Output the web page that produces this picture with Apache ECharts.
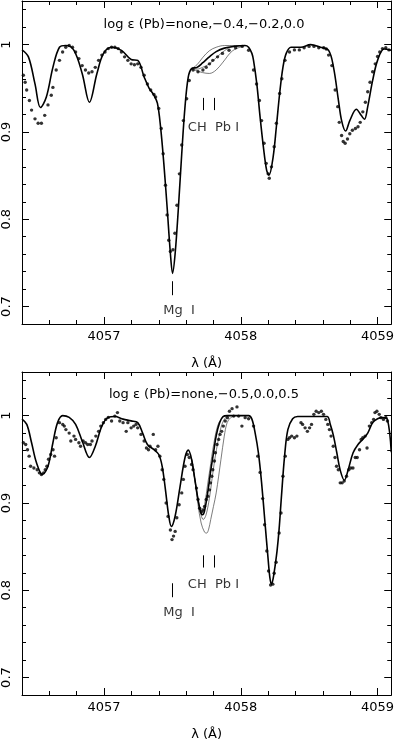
<!DOCTYPE html>
<html>
<head>
<meta charset="utf-8">
<title>Pb I 4057 spectrum fit</title>
<script src="https://cdn.jsdelivr.net/npm/echarts@6/dist/echarts.min.js"></script>
<style>
  html, body { margin: 0; padding: 0; background: #fff; }
  #main { width: 397px; height: 742px; }
</style>
</head>
<body>
<div id="main"></div>
<script>
// axis ranges and tick values
const X_MIN = 4056.4, X_MAX = 4059.1;
const Y_MIN = 0.68, Y_MAX = 1.05;
const xMajor = [4057, 4058, 4059];
const xMinor = [4056.4, 4056.6, 4056.8, 4057.2, 4057.4, 4057.6, 4057.8, 4058.2, 4058.4, 4058.6, 4058.8, 4059.0];
const yMajor = [0.7, 0.8, 0.9, 1.0];
const yMinor = [0.68, 0.72, 0.74, 0.76, 0.78, 0.82, 0.84, 0.86, 0.88, 0.92, 0.94, 0.96, 0.98, 1.02, 1.04];

const topTitle = "log \u03b5 (Pb)=none,\u22120.4,\u22120.2,0.0";
const bottomTitle = "log \u03b5 (Pb)=none,\u22120.5,0.0,0.5";

// ---- upper panel ----
const topObserved = [
    [4056.41,0.965],[4056.423,0.957],[4056.434,0.948],[4056.454,0.936],[4056.47,0.925],[4056.495,0.915],
    [4056.518,0.910],[4056.542,0.910],[4056.566,0.919],[4056.59,0.931],[4056.614,0.942],[4056.626,0.951],
    [4056.65,0.971],[4056.674,0.982],[4056.697,0.9915],[4056.72,0.997],[4056.745,0.999],[4056.769,0.997],
    [4056.792,0.9915],[4056.816,0.984],[4056.84,0.976],[4056.864,0.971],[4056.888,0.9675],[4056.912,0.969],
    [4056.936,0.974],[4056.96,0.982],[4056.984,0.988],[4057.007,0.9915],[4057.031,0.9955],[4057.055,0.997],
    [4057.079,0.997],[4057.103,0.9955],[4057.127,0.9915],[4057.15,0.986],[4057.174,0.982],[4057.198,0.978],
    [4057.222,0.977],[4057.246,0.978],[4057.27,0.974],[4057.293,0.965],[4057.317,0.955],[4057.341,0.948],
    [4057.365,0.943],[4057.377,0.940],[4057.40,0.927],[4057.418,0.904],[4057.432,0.875],[4057.449,0.839],
    [4057.461,0.805],[4057.473,0.776],[4057.485,0.763],[4057.504,0.765],[4057.518,0.784],[4057.533,0.816],
    [4057.551,0.852],[4057.568,0.885],[4057.58,0.913],[4057.604,0.938],[4057.623,0.959],[4057.651,0.971],
    [4057.687,0.969],[4057.723,0.971],[4057.747,0.974],[4057.771,0.978],[4057.795,0.982],[4057.83,0.986],
    [4057.866,0.990],[4057.914,0.9935],[4057.962,0.9965],[4058.01,0.998],[4058.057,0.9935],[4058.093,0.971],
    [4058.115,0.955],[4058.136,0.936],[4058.152,0.913],[4058.17,0.887],[4058.186,0.864],[4058.2,0.852],
    [4058.208,0.847],[4058.224,0.86],[4058.244,0.883],[4058.26,0.91],[4058.284,0.944],[4058.3,0.961],
    [4058.323,0.982],[4058.356,0.9915],[4058.392,0.994],[4058.428,0.994],[4058.463,0.9965],[4058.499,0.998],
    [4058.535,0.998],[4058.57,0.9965],[4058.606,0.9965],[4058.625,0.995],[4058.642,0.988],[4058.666,0.976],
    [4058.69,0.948],[4058.709,0.929],[4058.72,0.911],[4058.737,0.896],[4058.749,0.889],[4058.763,0.887],
    [4058.78,0.892],[4058.797,0.898],[4058.816,0.902],[4058.838,0.904],[4058.857,0.906],[4058.873,0.911],
    [4058.892,0.923],[4058.911,0.934],[4058.928,0.946],[4058.945,0.957],[4058.964,0.969],[4058.983,0.978],
    [4059.0,0.9865],[4059.016,0.9915],[4059.036,0.9955],[4059.06,0.9965],[4059.083,0.994]
];
// synthetic spectrum, log eps(Pb) = -0.4 (drawn bold)
const topModel = [
    [4056.40,0.994],[4056.447,0.986],[4056.495,0.955],[4056.535,0.928],[4056.578,0.940],[4056.626,0.974],
    [4056.674,0.997],[4056.72,0.999],[4056.78,0.9935],[4056.84,0.967],[4056.893,0.934],[4056.948,0.967],
    [4056.996,0.990],[4057.055,0.997],[4057.127,0.9935],[4057.198,0.983],[4057.246,0.982],[4057.293,0.963],
    [4057.33,0.950],[4057.365,0.942],[4057.39,0.933],[4057.413,0.906],[4057.437,0.864],[4057.461,0.814],
    [4057.485,0.761],[4057.501,0.738],[4057.52,0.761],[4057.544,0.814],[4057.568,0.875],[4057.592,0.929],
    [4057.616,0.963],[4057.64,0.9725],[4057.68,0.974],[4057.72,0.979],[4057.77,0.986],[4057.82,0.992],
    [4057.88,0.996],[4057.95,0.998],[4058.03,0.999],[4058.057,0.997],[4058.081,0.990],[4058.093,0.982],
    [4058.117,0.955],[4058.141,0.917],[4058.165,0.883],[4058.189,0.856],[4058.206,0.8505],[4058.236,0.871],
    [4058.26,0.906],[4058.284,0.944],[4058.308,0.974],[4058.332,0.990],[4058.367,0.997],[4058.439,0.997],
    [4058.51,1.0],[4058.582,0.997],[4058.642,0.9935],[4058.678,0.974],[4058.714,0.936],[4058.737,0.913],
    [4058.766,0.901],[4058.797,0.913],[4058.845,0.926],[4058.88,0.919],[4058.904,0.9145],[4058.928,0.929],
    [4058.964,0.959],[4059.0,0.982],[4059.048,0.995],[4059.1,0.9935]
];
// the other abundances only differ around the Pb I line
const topPbNone = [[4057.64,0.9725],[4057.68,0.977],[4057.72,0.985],[4057.77,0.993],[4057.82,0.997],[4057.88,0.999],[4057.95,0.999],[4058.03,0.999]];
const topPbM02 = [[4057.64,0.9725],[4057.68,0.972],[4057.72,0.974],[4057.77,0.978],[4057.82,0.985],[4057.88,0.993],[4057.94,0.998],[4058.03,0.999]];
const topPb00 = [[4057.64,0.972],[4057.68,0.970],[4057.72,0.968],[4057.77,0.967],[4057.82,0.971],[4057.87,0.980],[4057.94,0.993],[4058.03,0.999]];

// ---- lower panel ----
const bottomObserved = [
    [4056.41,0.969],[4056.427,0.967],[4056.44,0.961],[4056.452,0.9536],[4056.463,0.942],[4056.487,0.940],
    [4056.511,0.938],[4056.527,0.9345],[4056.542,0.9325],[4056.558,0.9345],[4056.57,0.938],[4056.582,0.942],
    [4056.594,0.95],[4056.61,0.9555],[4056.627,0.961],[4056.638,0.9536],[4056.65,0.9747],[4056.674,0.992],
    [4056.698,0.990],[4056.709,0.988],[4056.721,0.984],[4056.745,0.980],[4056.757,0.971],[4056.78,0.9766],
    [4056.792,0.9728],[4056.816,0.969],[4056.828,0.965],[4056.847,0.971],[4056.864,0.969],[4056.88,0.967],
    [4056.9,0.967],[4056.912,0.971],[4056.94,0.9766],[4056.96,0.982],[4056.976,0.988],[4056.995,0.992],
    [4057.012,0.9957],[4057.031,0.998],[4057.055,0.9938],[4057.079,0.9995],[4057.098,1.0035],[4057.115,0.9938],
    [4057.139,0.992],[4057.162,0.982],[4057.174,0.992],[4057.198,0.986],[4057.217,0.988],[4057.234,0.990],
    [4057.246,0.986],[4057.27,0.9785],[4057.293,0.971],[4057.31,0.963],[4057.325,0.961],[4057.336,0.965],
    [4057.36,0.9785],[4057.377,0.961],[4057.394,0.965],[4057.408,0.9536],[4057.425,0.938],[4057.437,0.927],
    [4057.454,0.900],[4057.468,0.8846],[4057.485,0.869],[4057.497,0.858],[4057.508,0.862],[4057.52,0.8674],
    [4057.532,0.883],[4057.549,0.898],[4057.568,0.9115],[4057.58,0.927],[4057.592,0.942],[4057.609,0.9555],
    [4057.623,0.952],[4057.64,0.944],[4057.651,0.938],[4057.676,0.917],[4057.687,0.904],[4057.699,0.894],
    [4057.711,0.890],[4057.723,0.892],[4057.735,0.896],[4057.747,0.904],[4057.759,0.9076],[4057.771,0.915],
    [4057.778,0.923],[4057.788,0.9306],[4057.795,0.938],[4057.807,0.948],[4057.814,0.9575],[4057.826,0.967],
    [4057.838,0.9728],[4057.848,0.9785],[4057.86,0.982],[4057.872,0.988],[4057.886,0.9938],[4057.902,0.9977],
    [4057.917,1.005],[4057.936,1.008],[4057.948,0.9995],[4057.972,1.010],[4057.984,0.9995],[4058.008,0.988],
    [4058.032,0.9977],[4058.057,0.9965],[4058.093,0.988],[4058.124,0.9536],[4058.141,0.935],[4058.16,0.905],
    [4058.174,0.875],[4058.19,0.845],[4058.203,0.822],[4058.218,0.806],[4058.234,0.807],[4058.244,0.8195],
    [4058.258,0.832],[4058.28,0.8655],[4058.294,0.8885],[4058.308,0.9306],[4058.325,0.9536],[4058.344,0.9728],
    [4058.356,0.9747],[4058.372,0.9766],[4058.392,0.9747],[4058.41,0.9766],[4058.44,0.992],[4058.452,0.990],
    [4058.47,0.986],[4058.487,0.982],[4058.503,0.986],[4058.517,0.990],[4058.534,1.0015],[4058.551,1.005],
    [4058.57,1.0035],[4058.589,1.005],[4058.605,1.0015],[4058.622,0.9957],[4058.636,0.990],[4058.648,0.984],
    [4058.66,0.9766],[4058.676,0.965],[4058.689,0.952],[4058.70,0.942],[4058.713,0.938],[4058.727,0.923],
    [4058.741,0.923],[4058.756,0.925],[4058.773,0.9306],[4058.79,0.938],[4058.804,0.940],[4058.82,0.940],
    [4058.837,0.952],[4058.851,0.952],[4058.868,0.961],[4058.88,0.9728],[4058.892,0.9747],[4058.909,0.9766],
    [4058.923,0.963],[4058.94,0.988],[4058.957,0.992],[4058.971,0.9957],[4058.981,1.0035],[4058.995,1.005],
    [4059.012,1.0015],[4059.024,0.9977],[4059.043,0.9957],[4059.06,0.998],[4059.072,0.9938]
];
// synthetic spectrum, log eps(Pb) = -0.5 (drawn bold)
const bottomModel = [
    [4056.40,0.996],[4056.435,0.990],[4056.47,0.969],[4056.506,0.946],[4056.549,0.9325],[4056.59,0.942],
    [4056.626,0.969],[4056.66,0.992],[4056.697,1.0],[4056.745,0.998],[4056.792,0.990],[4056.84,0.971],
    [4056.893,0.952],[4056.936,0.965],[4056.984,0.988],[4057.031,0.998],[4057.079,0.999],[4057.139,0.996],
    [4057.198,0.994],[4057.246,0.992],[4057.282,0.980],[4057.317,0.967],[4057.365,0.961],[4057.40,0.9555],
    [4057.425,0.942],[4057.449,0.915],[4057.473,0.885],[4057.492,0.873],[4057.52,0.885],[4057.556,0.919],
    [4057.592,0.952],[4057.616,0.9605],[4057.64,0.950],[4057.664,0.927],[4057.687,0.904],[4057.705,0.890],
    [4057.72,0.8865],[4057.735,0.891],[4057.76,0.914],[4057.78,0.937],[4057.80,0.957],[4057.82,0.977],
    [4057.845,0.992],[4057.87,0.999],[4057.9,1.0],[4058.057,1.0],[4058.081,0.996],[4058.105,0.980],
    [4058.129,0.957],[4058.152,0.923],[4058.177,0.877],[4058.2,0.835],[4058.212,0.815],[4058.224,0.807],
    [4058.236,0.813],[4058.248,0.825],[4058.265,0.845],[4058.28,0.870],[4058.296,0.905],[4058.32,0.9536],
    [4058.344,0.984],[4058.379,0.9965],[4058.415,0.999],[4058.63,0.999],[4058.654,0.990],[4058.678,0.9766],
    [4058.702,0.9575],[4058.726,0.938],[4058.757,0.926],[4058.785,0.938],[4058.821,0.9575],[4058.857,0.967],
    [4058.893,0.973],[4058.928,0.980],[4058.964,0.992],[4059.0,0.9965],[4059.036,0.9977],[4059.072,0.9957],
    [4059.1,0.958]
];
const bottomPbNone = [[4057.64,0.950],[4057.664,0.927],[4057.687,0.905],[4057.705,0.891],[4057.718,0.889],[4057.735,0.898],[4057.759,0.923],[4057.78,0.945],[4057.795,0.961],[4057.83,0.988],[4057.866,0.9975],[4057.9,1.0]];
const bottomPb00 = [[4057.64,0.950],[4057.664,0.927],[4057.687,0.903],[4057.71,0.886],[4057.725,0.881],[4057.745,0.886],[4057.77,0.905],[4057.79,0.928],[4057.81,0.95],[4057.835,0.972],[4057.86,0.989],[4057.89,0.998],[4057.92,1.0]];
const bottomPb05 = [[4057.64,0.950],[4057.664,0.926],[4057.687,0.898],[4057.71,0.877],[4057.735,0.8665],[4057.75,0.8655],[4057.765,0.870],[4057.78,0.881],[4057.80,0.896],[4057.82,0.9115],[4057.855,0.95],[4057.879,0.9765],[4057.90,0.992],[4057.926,0.9977],[4057.96,1.0]];

// line identifications: [wavelength, tick bottom, tick top]
const topLineMarks = [[4057.50, 0.713, 0.729], [4057.722, 0.925, 0.939], [4057.806, 0.925, 0.939]];
const bottomLineMarks = [[4057.50, 0.792, 0.808], [4057.722, 0.826, 0.840], [4057.806, 0.826, 0.840]];
// labels: [wavelength, flux, text]
const topLabels = [[4057.549, 0.695, "Mg  I"], [4057.80, 0.905, "CH  Pb I"]];
const bottomLabels = [[4057.549, 0.774, "Mg  I"], [4057.80, 0.806, "CH  Pb I"]];

document.addEventListener("DOMContentLoaded", function () {
    const FONT = "DejaVu Sans";
    var chart = echarts.init(document.getElementById("main"), null, { renderer: "canvas" });

    // four x axes per panel: bottom/top, major/minor ticks
    function makeXAxes(g) {
        var base = { gridIndex: g, type: "value", min: X_MIN, max: X_MAX, splitLine: { show: false } };
        return [
            Object.assign({}, base, {
                position: "bottom",
                axisLine: { lineStyle: { color: "#000", width: 1 } },
                axisTick: { inside: true, length: 7, customValues: xMajor, lineStyle: { color: "#000" } },
                axisLabel: {
                    customValues: xMajor, margin: 6, color: "#000", fontSize: 13, fontFamily: FONT,
                    formatter: function (v) { return String(Math.round(v)); }
                },
                name: "\u03bb (\u00c5)", nameLocation: "middle", nameGap: 33,
                nameTextStyle: { color: "#000", fontSize: 13, fontFamily: FONT }
            }),
            Object.assign({}, base, {
                position: "bottom", axisLine: { show: false },
                axisTick: { inside: true, length: 4, customValues: xMinor, lineStyle: { color: "#000" } },
                axisLabel: { show: false }
            }),
            Object.assign({}, base, {
                position: "top",
                axisLine: { lineStyle: { color: "#000", width: 1 } },
                axisTick: { inside: true, length: 7, customValues: xMajor, lineStyle: { color: "#000" } },
                axisLabel: { show: false }
            }),
            Object.assign({}, base, {
                position: "top", axisLine: { show: false },
                axisTick: { inside: true, length: 4, customValues: xMinor, lineStyle: { color: "#000" } },
                axisLabel: { show: false }
            })
        ];
    }

    function makeYAxes(g) {
        var base = { gridIndex: g, type: "value", min: Y_MIN, max: Y_MAX, splitLine: { show: false } };
        return [
            Object.assign({}, base, {
                position: "left",
                axisLine: { lineStyle: { color: "#000", width: 1 } },
                axisTick: { inside: true, length: 7, customValues: yMajor, lineStyle: { color: "#000" } },
                axisLabel: {
                    customValues: yMajor, rotate: 90, margin: 9, color: "#000", fontSize: 13, fontFamily: FONT,
                    formatter: function (v) { return Math.abs(v - 1) < 1e-9 ? "1" : v.toFixed(1); }
                }
            }),
            Object.assign({}, base, {
                position: "left", axisLine: { show: false },
                axisTick: { inside: true, length: 4, customValues: yMinor, lineStyle: { color: "#000" } },
                axisLabel: { show: false }
            }),
            Object.assign({}, base, {
                position: "right",
                axisLine: { lineStyle: { color: "#000", width: 1 } },
                axisTick: { inside: true, length: 7, customValues: yMajor, lineStyle: { color: "#000" } },
                axisLabel: { show: false }
            }),
            Object.assign({}, base, {
                position: "right", axisLine: { show: false },
                axisTick: { inside: true, length: 4, customValues: yMinor, lineStyle: { color: "#000" } },
                axisLabel: { show: false }
            })
        ];
    }

    function panelSeries(g, observed, model, variants, marks, labels) {
        var ax = g * 4;
        var list = [];
        variants.forEach(function (v) {
            list.push({
                type: "line", xAxisIndex: ax, yAxisIndex: ax, data: v, smooth: 0.35,
                showSymbol: false, silent: true, z: 2,
                lineStyle: { color: "#444", width: 0.7 }
            });
        });
        list.push({
            type: "line", xAxisIndex: ax, yAxisIndex: ax, data: model, smooth: 0.35,
            showSymbol: false, silent: true, z: 3,
            lineStyle: { color: "#000", width: 1.6 }
        });
        list.push({
            type: "scatter", xAxisIndex: ax, yAxisIndex: ax, data: observed,
            symbol: "circle", symbolSize: 3.4, silent: true, z: 4,
            itemStyle: { color: "#000" }
        });
        // identification ticks and labels
        list.push({
            type: "scatter", xAxisIndex: ax, yAxisIndex: ax, data: labels,
            symbolSize: 0, silent: true, z: 5,
            label: {
                show: true, position: "inside", color: "#000", fontSize: 13, fontFamily: FONT,
                formatter: function (p) { return p.value[2]; }
            },
            markLine: {
                silent: true, symbol: ["none", "none"], animation: false,
                label: { show: false },
                lineStyle: { color: "#000", width: 1, type: "solid" },
                data: marks.map(function (m) {
                    return [{ coord: [m[0], m[1]] }, { coord: [m[0], m[2]] }];
                })
            }
        });
        return list;
    }

    const option = {
        backgroundColor: "#fff",
        animation: false,
        grid: [
            { left: 19, top: 1, width: 376, height: 323 },
            { left: 19, top: 372, width: 376, height: 323 }
        ],
        xAxis: makeXAxes(0).concat(makeXAxes(1)),
        yAxis: makeYAxes(0).concat(makeYAxes(1)),
        graphic: [
            { type: "text", x: 204, y: 25, style: { text: topTitle, fill: "#000", font: "13px '" + FONT + "'", align: "center", verticalAlign: "middle" } },
            { type: "text", x: 204, y: 395, style: { text: bottomTitle, fill: "#000", font: "13px '" + FONT + "'", align: "center", verticalAlign: "middle" } }
        ],
        series: panelSeries(0, topObserved, topModel, [topPbNone, topPbM02, topPb00], topLineMarks, topLabels)
            .concat(panelSeries(1, bottomObserved, bottomModel, [bottomPbNone, bottomPb00, bottomPb05], bottomLineMarks, bottomLabels))
    };

    option && chart.setOption(option);
});
</script>
</body>
</html>
